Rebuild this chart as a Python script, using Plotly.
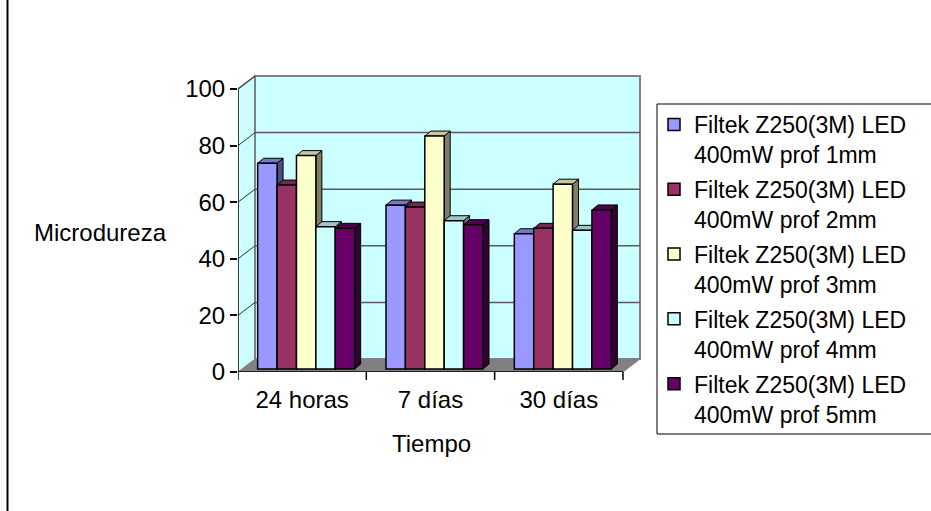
import plotly.graph_objects as go

# ---- data -------------------------------------------------------------
categories = ["24 horas", "7 días", "30 días"]
series_names = [
    "Filtek Z250(3M) LED<br>400mW prof 1mm",
    "Filtek Z250(3M) LED<br>400mW prof 2mm",
    "Filtek Z250(3M) LED<br>400mW prof 3mm",
    "Filtek Z250(3M) LED<br>400mW prof 4mm",
    "Filtek Z250(3M) LED<br>400mW prof 5mm",
]
prof_1mm = [72.7, 57.9, 47.8]
prof_2mm = [65.0, 57.2, 49.7]
prof_3mm = [75.4, 82.3, 65.3]
prof_4mm = [50.3, 52.4, 49.0]
prof_5mm = [49.7, 51.0, 56.2]
series_values = [prof_1mm, prof_2mm, prof_3mm, prof_4mm, prof_5mm]
y_ticks = [0, 20, 40, 60, 80, 100]

colors = ["#9999FF", "#993366", "#FFFFCC", "#CCFFFF", "#660066"]
WALL = "#CCFFFF"
GRAY = "#808080"
FONT = "Arial, 'Liberation Sans', sans-serif"

# ---- geometry (pixels) ------------------------------------------------
W, H = 931, 511
PLOT_L, PLOT_R, PLOT_T, PLOT_B = 238, 643, 72, 372
X_PX = 128.33          # px per category
Y_PX = 2.83            # px per value unit
WALL_DX, WALL_DY = 17, 13   # back wall offset
ROW_DX, ROW_DY = 4, 3       # bar row offset inside the box
BAR_DX, BAR_DY = 6, 5       # bar depth

x_min = -0.5
x_max = x_min + (PLOT_R - PLOT_L) / X_PX
y_max = (PLOT_B - PLOT_T) / Y_PX
ux = lambda px: px / X_PX
uy = lambda px: px / Y_PX
px_x = lambda px: (px - PLOT_L) / (PLOT_R - PLOT_L)   # paper x from pixel
px_y = lambda py: (PLOT_B - py) / (PLOT_B - PLOT_T)   # paper y from pixel

wdx, wdy = ux(WALL_DX), uy(WALL_DY)
x_lo, x_hi = -0.5, len(categories) - 0.5
top = y_ticks[-1]

group_w = 0.756
bw = group_w / len(series_values)


def shade(hexcol, f):
    r, g, b = (int(hexcol[i:i + 2], 16) for i in (1, 3, 5))
    return "#{:02X}{:02X}{:02X}".format(int(r * f), int(g * f), int(b * f))


def poly(pts):
    return "M " + " L ".join(f"{x:.5f},{y:.5f}" for x, y in pts) + " Z"


shapes = []
# side wall
shapes.append(dict(type="path", layer="below", xref="x", yref="y",
                   path=poly([(x_lo, 0), (x_lo, top), (x_lo + wdx, top + wdy), (x_lo + wdx, wdy)]),
                   fillcolor=WALL, line=dict(width=0)))
# back wall
shapes.append(dict(type="rect", layer="below", xref="x", yref="y",
                   x0=x_lo + wdx, x1=x_hi + wdx, y0=wdy, y1=top + wdy,
                   fillcolor=WALL, line=dict(color=GRAY, width=2)))
# gridlines on the back wall and the side wall
for v in y_ticks[1:-1]:
    shapes.append(dict(type="line", layer="below", xref="x", yref="y",
                       x0=x_lo + wdx, x1=x_hi + wdx, y0=v + wdy, y1=v + wdy,
                       line=dict(color="#5A5A5A", width=1.5)))
    shapes.append(dict(type="line", layer="below", xref="x", yref="y",
                       x0=x_lo, x1=x_lo + wdx, y0=v, y1=v + wdy,
                       line=dict(color="#303030", width=1)))
# floor
shapes.append(dict(type="path", layer="below", xref="x", yref="y",
                   path=poly([(x_lo, 0), (x_hi, 0), (x_hi + wdx, wdy), (x_lo + wdx, wdy)]),
                   fillcolor=GRAY, line=dict(color=GRAY, width=1)))

# bar side and top faces
bdx, bdy = ux(BAR_DX), uy(BAR_DY)
base = uy(ROW_DY)
for i in range(len(categories)):
    xc = i + ux(ROW_DX)
    for j, vals in enumerate(series_values):
        L = xc - group_w / 2 + j * bw
        R = L + bw
        B = base
        T = base + vals[i]
        shapes.append(dict(type="path", layer="below", xref="x", yref="y",
                           path=poly([(R, B), (R, T), (R + bdx, T + bdy), (R + bdx, B + bdy)]),
                           fillcolor=shade(colors[j], 0.5), line=dict(color="black", width=1)))
        shapes.append(dict(type="path", layer="below", xref="x", yref="y",
                           path=poly([(L, T), (R, T), (R + bdx, T + bdy), (L + bdx, T + bdy)]),
                           fillcolor=shade(colors[j], 0.78), line=dict(color="black", width=1)))

# front axis lines and category ticks
shapes.append(dict(type="line", layer="above", xref="x", yref="y",
                   x0=x_lo, x1=x_lo, y0=0, y1=top, line=dict(color="black", width=1.5)))
shapes.append(dict(type="line", layer="above", xref="x", yref="y",
                   x0=x_lo, x1=x_lo + wdx, y0=top, y1=top + wdy, line=dict(color="#404040", width=1.5)))
shapes.append(dict(type="line", layer="above", xref="x", yref="y",
                   x0=x_lo, x1=x_hi, y0=0, y1=0, line=dict(color="black", width=1.5)))
for k in range(len(categories) + 1):
    xb = x_lo + k
    shapes.append(dict(type="line", layer="above", xref="x", yref="paper",
                       x0=xb, x1=xb, y0=0, y1=px_y(PLOT_B + 8), line=dict(color="black", width=1.5)))

# page frame line on the left and legend box
shapes.append(dict(type="line", xref="paper", yref="paper",
                   x0=px_x(7.5), x1=px_x(7.5), y0=px_y(H), y1=px_y(0),
                   line=dict(color="black", width=2)))
shapes.append(dict(type="rect", xref="paper", yref="paper",
                   x0=px_x(657), x1=px_x(940), y0=px_y(434), y1=px_y(104),
                   line=dict(color="black", width=1)))

fig = go.Figure()
for j, (name, vals) in enumerate(zip(series_names, series_values)):
    fig.add_trace(go.Bar(
        x=[i + ux(ROW_DX) for i in range(len(categories))],
        y=vals, base=base, width=bw, offset=-group_w / 2 + j * bw,
        name=name, legendgroup=f"g{j}",
        marker=dict(color=colors[j], line=dict(color="black", width=1.5)),
    ))

fig.update_layout(
    width=W, height=H, autosize=False,
    margin=dict(l=PLOT_L, r=W - PLOT_R, t=PLOT_T, b=H - PLOT_B, pad=0),
    paper_bgcolor="white", plot_bgcolor="rgba(0,0,0,0)",
    barmode="overlay",
    font=dict(family=FONT, size=24, color="black"),
    shapes=shapes,
    xaxis=dict(range=[x_min, x_max], tickvals=list(range(len(categories))), ticktext=categories,
               ticks="outside", ticklen=6, tickcolor="rgba(0,0,0,0)",
               showgrid=False, zeroline=False, showline=False,
               tickfont=dict(size=24)),
    yaxis=dict(range=[0, y_max], tickvals=y_ticks, ticks="outside", ticklen=7,
               tickcolor="black", tickwidth=1.5,
               showgrid=False, zeroline=False, showline=False,
               tickfont=dict(size=24)),
    legend=dict(x=px_x(654), y=px_y(103), xanchor="left", yanchor="top",
                font=dict(size=23), valign="top", tracegroupgap=2,
                maxheight=420,
                bgcolor="rgba(0,0,0,0)", borderwidth=0),
    annotations=[
        dict(text="Microdureza", xref="paper", yref="paper", x=px_x(100), y=px_y(232),
             xanchor="center", yanchor="middle", showarrow=False, font=dict(size=24)),
        dict(text="Tiempo", xref="paper", yref="paper", x=px_x(431), y=px_y(443),
             xanchor="center", yanchor="middle", showarrow=False, font=dict(size=24)),
    ],
)

fig.write_html("out.html")
